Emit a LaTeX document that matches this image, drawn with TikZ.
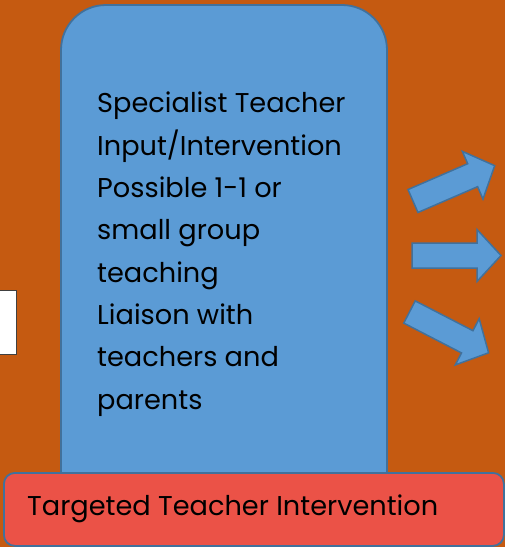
\documentclass[tikz,border=0pt]{standalone}
\usepackage{fontspec}
\setmainfont{Poppins}
\definecolor{bgorange}{HTML}{C55A11}
\definecolor{boxblue}{HTML}{5B9BD5}
\definecolor{edgeblue}{HTML}{41719C}
\definecolor{boxred}{HTML}{EB5247}
\tikzset{
  bluebox/.style={draw=edgeblue, fill=boxblue, line width=1.8pt},
  redbox/.style={draw=edgeblue, fill=boxred, line width=1.8pt, rounded corners=11pt},
  blockarrow/.style={draw=edgeblue, fill=boxblue, line width=1.5pt, line join=miter},
  bodytext/.style={font=\fontsize{27.2}{42.3}\selectfont, text=black, align=left, inner sep=0pt},
}
\begin{document}
\begin{tikzpicture}[x=1pt,y=1pt]
\fill[bgorange] (0,0) rectangle (505,-547);
\useasboundingbox (0,0) rectangle (505,-547);
% white box at left edge
\node[draw=black!75, fill=white, line width=1.2pt, inner sep=0pt, minimum width=20pt, minimum height=64pt, anchor=north east] (side) at (17,-290) {};
% main blue box
\path[bluebox, rounded corners=45pt] (61,-5) rectangle (387,-520);
\node[inner sep=0pt, minimum width=326pt, minimum height=515pt, anchor=north west] (main) at (61,-5) {};
\node[bodytext, anchor=north west] (maintext) at (97,-92)
  {Specialist Teacher\\Input/Intervention\\Possible 1-1 or\\small group\\teaching\\Liaison with\\teachers and\\parents};
% red box
\node[redbox, minimum width=500pt, minimum height=73pt, anchor=north west, inner sep=0pt] (target) at (3,-472) {};
\node[bodytext, anchor=west] (targettext) at (27,-509) {Targeted Teacher Intervention};
% arrows
\foreach \name/\px/\py/\ang in {up/413/-201/23.4, mid/412/-255.5/0, down/409.5/-312/-27.3}{
  \coordinate (\name) at (\px,\py);
  \draw[blockarrow, shift={(\name)}, rotate=\ang]
    (0,-12.5) -- (65,-12.5) -- (65,-26) -- (89,0) -- (65,26) -- (65,12.5) -- (0,12.5) -- cycle;
}
\end{tikzpicture}
\end{document}
